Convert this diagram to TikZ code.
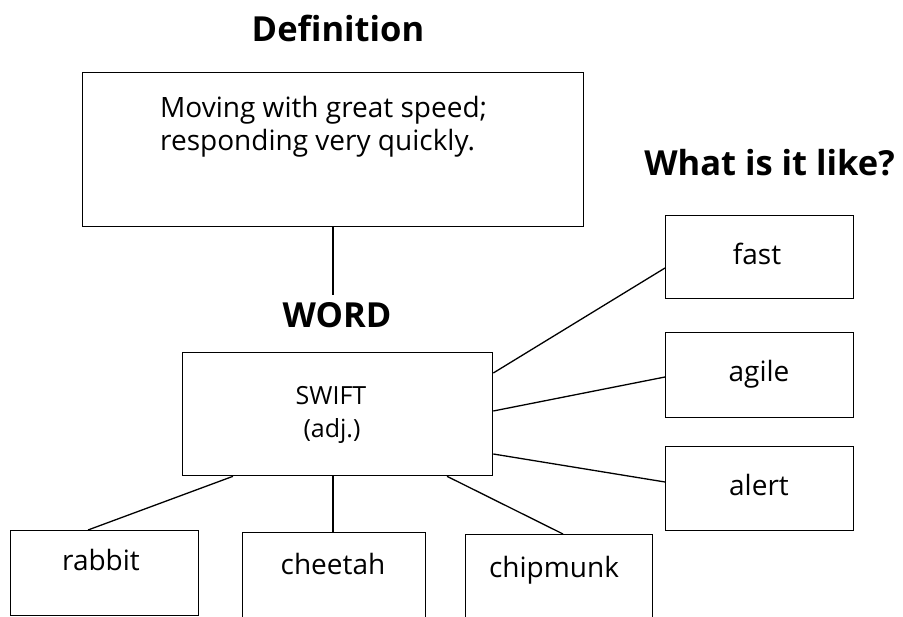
\documentclass[tikz,border=0pt]{standalone}
\usepackage{fontspec}
\setmainfont{Open Sans}
\usetikzlibrary{calc}
\begin{document}
\begin{tikzpicture}[x=1pt,y=-1pt,
  box/.style={draw, line width=1.3pt, rectangle, inner sep=0pt, anchor=north west},
  body/.style={font=\fontsize{28}{34}\selectfont, inner sep=0pt},
  wordtxt/.style={font=\fontsize{25}{30}\selectfont, inner sep=0pt},
  title/.style={font=\bfseries\fontsize{34.5}{40}\selectfont, inner sep=0pt},
  link/.style={line width=1.3pt}]
\clip (0,0) rectangle (903,617);
\fill[white] (0,0) rectangle (903,617);
% titles
\node[title, anchor=base] (tdef) at (338,42) {Definition};
\node[title, anchor=base] (tword) at (337,328) {WORD};
\node[title, anchor=base east] (tlike) at (895,176) {What is it like?};
% boxes
\node[box, minimum width=501pt, minimum height=154pt] (def) at (82,72) {};
\node[box, minimum width=310pt, minimum height=123pt] (swift) at (182,352) {};
\node[box, minimum width=188pt, minimum height=83pt] (fast) at (665,215) {};
\node[box, minimum width=188pt, minimum height=85pt] (agile) at (665,332) {};
\node[box, minimum width=188pt, minimum height=84pt] (alert) at (665,446) {};
\node[box, minimum width=188pt, minimum height=85pt] (rabbit) at (10,530) {};
\node[box, minimum width=183pt, minimum height=100pt] (cheetah) at (242,532) {};
\node[box, minimum width=187pt, minimum height=100pt] (chipmunk) at (465,534) {};
\coordinate (wordtop) at (333,295);
% texts
\node[body, anchor=base west] (d1) at (160,118) {Moving with great speed;};
\node[body, anchor=base west] (d2) at (160,151) {responding very quickly.};
\node[wordtxt, anchor=base] (s1) at (331,405) {SWIFT};
\node[wordtxt, anchor=base] (s2) at (332,438) {(adj.)};
\node[body, anchor=base] (xfast) at (757,265) {fast};
\node[body, anchor=base] (xagile) at (759,382) {agile};
\node[body, anchor=base] (xalert) at (759,496) {alert};
\node[body, anchor=base] (xrabbit) at (101,571) {rabbit};
\node[body, anchor=base] (xcheetah) at (333,574) {cheetah};
\node[body, anchor=base] (xchip) at (554,577) {chipmunk};
% connectors
\draw[link] (def.south -| wordtop) -- (wordtop);
\draw[link] ($(swift.north east)+(0,21)$) -- ($(fast.north west)+(0,53)$);
\draw[link] ($(swift.north east)+(0,59)$) -- ($(agile.north west)+(0,45)$);
\draw[link] ($(swift.north east)+(0,102)$) -- ($(alert.north west)+(0,36)$);
\draw[link] ($(swift.south west)+(51,0)$) -- ($(rabbit.north west)+(78,0)$);
\draw[link] ($(swift.south west)+(151,0)$) -- ($(cheetah.north west)+(91,0)$);
\draw[link] ($(swift.south west)+(265,0)$) -- ($(chipmunk.north west)+(98,0)$);
\end{tikzpicture}
\end{document}
